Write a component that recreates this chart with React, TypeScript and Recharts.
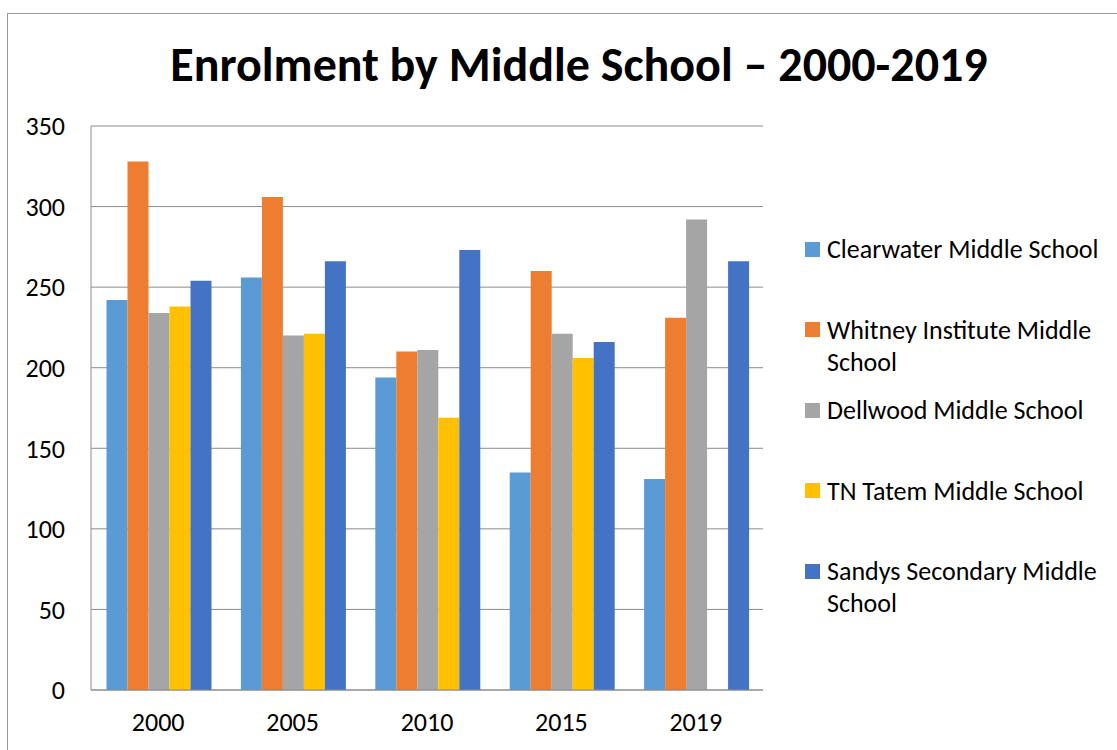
import { BarChart, Bar, XAxis, YAxis, CartesianGrid, Legend } from "recharts";

const YEARS = ["2000", "2005", "2010", "2015", "2019"];
const CLEARWATER = [242, 256, 194, 135, 131];
const WHITNEY = [328, 306, 210, 260, 231];
const DELLWOOD = [234, 220, 211, 221, 292];
const TATEM: (number | null)[] = [238, 221, 169, 206, null];
const SANDYS = [254, 266, 273, 216, 266];
const Y_TICKS = [0, 50, 100, 150, 200, 250, 300, 350];

const SERIES = [
  { key: "clearwater", name: "Clearwater Middle School", color: "#5B9BD5", values: CLEARWATER },
  { key: "whitney", name: "Whitney Institute Middle School", color: "#ED7D31", values: WHITNEY },
  { key: "dellwood", name: "Dellwood Middle School", color: "#A5A5A5", values: DELLWOOD },
  { key: "tatem", name: "TN Tatem Middle School", color: "#FFC000", values: TATEM },
  { key: "sandys", name: "Sandys Secondary Middle School", color: "#4472C4", values: SANDYS },
];

const data = YEARS.map((year, i) => {
  const row: Record<string, string | number | null> = { year };
  SERIES.forEach((s) => { row[s.key] = s.values[i]; });
  return row;
});

const FONT = "Carlito, Lato, 'Open Sans', sans-serif";
const GRID = "#8c8c8c";

// legend drawn as a column of square swatches, in series order, wrapping long names
function SchoolLegend() {
  return (
    <div style={{ width: 310, fontFamily: FONT, fontSize: 26, color: "#000" }}>
      {SERIES.map((s) => (
        <div key={s.key} style={{ height: 80.6, display: "flex", alignItems: "flex-start" }}>
          <span
            style={{
              display: "inline-block", width: 15, height: 15, marginTop: 8.5,
              marginRight: 7, background: s.color, flex: "none",
            }}
          />
          <span style={{ lineHeight: "32px", width: 288 }}>{s.name}</span>
        </div>
      ))}
    </div>
  );
}

export default function App() {
  return (
    <div style={{ position: "absolute", left: 0, top: 0, width: 1117, height: 750, overflow: "hidden", background: "#fff" }}>
      {/* chart frame, runs off the right and bottom edges */}
      <div style={{ position: "absolute", left: 7, top: 13, width: 1200, height: 800, border: "1px solid #999" }} />

      <div
        style={{
          position: "absolute", left: 0, top: 33, width: 1158, textAlign: "center",
          fontFamily: FONT, fontWeight: "bold", fontSize: 48, lineHeight: "64px", color: "#000",
          whiteSpace: "nowrap",
        }}
      >
        Enrolment by Middle School – 2000-2019
      </div>

      <div style={{ position: "absolute", left: 0, top: 0 }}>
        <BarChart
          width={1117} height={750} data={data}
          margin={{ top: 126, right: 44, bottom: 0, left: 0 }}
          barCategoryGap={15.5} barGap={0}
        >
          <CartesianGrid vertical={false} stroke={GRID} strokeWidth={1} />
          <XAxis
            dataKey="year" tickLine={false} tickSize={0} tickMargin={23}
            axisLine={{ stroke: GRID }}
            tick={{ fill: "#000", fontSize: 26, fontFamily: FONT }}
            height={60}
          />
          <YAxis
            domain={[0, 350]} ticks={Y_TICKS} width={91} interval={0}
            tickLine={false} tickSize={0} tickMargin={26}
            axisLine={{ stroke: GRID }}
            tick={{ fill: "#000", fontSize: 26, fontFamily: FONT }}
          />
          <Legend
            layout="vertical" align="right" verticalAlign="top"
            content={<SchoolLegend />}
            wrapperStyle={{ left: 805, top: 233, width: 310 }}
          />
          {SERIES.map((s) => (
            <Bar key={s.key} dataKey={s.key} name={s.name} fill={s.color} isAnimationActive={false} />
          ))}
        </BarChart>
      </div>
    </div>
  );
}
